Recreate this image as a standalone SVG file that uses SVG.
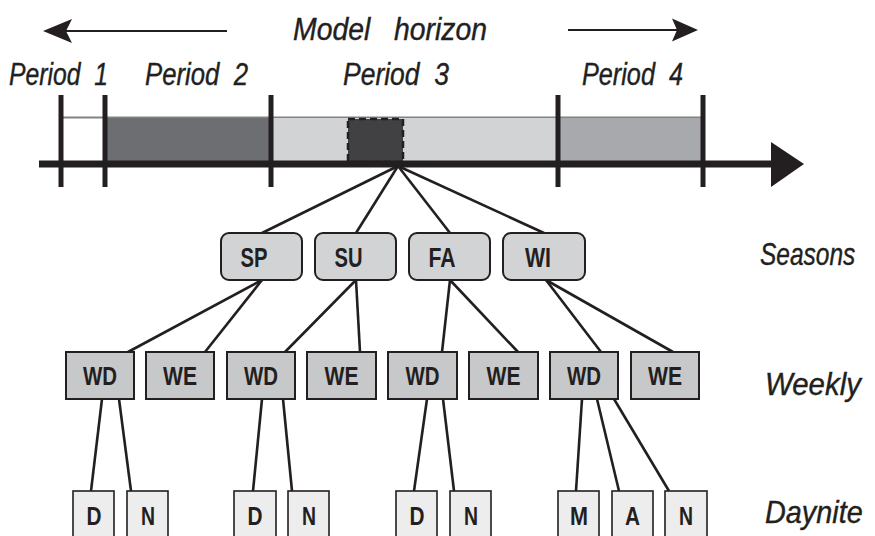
<svg xmlns="http://www.w3.org/2000/svg" width="875" height="536" viewBox="0 0 875 536">
  <style>
    .lbl { font-family: "Liberation Sans", Arial, sans-serif; font-style: italic; font-size: 31px; fill: #231f20; stroke: #231f20; stroke-width: 0.4; white-space: pre; }
    .nt { font-family: "Liberation Sans", Arial, sans-serif; font-weight: bold; fill: #231f20; text-anchor: middle; }
    .season rect { fill: #d1d3d4; stroke: #231f20; stroke-width: 2; }
    .week rect { fill: #c7c8ca; stroke: #231f20; stroke-width: 2; }
    .day rect { fill: #ededee; stroke: #231f20; stroke-width: 1.6; }
    .season text { font-size: 28px; }
    .week text, .day text { font-size: 26px; }
    .conn line { stroke: #231f20; stroke-width: 2.6; stroke-linecap: butt; }
    .tick { stroke: #231f20; stroke-width: 5; }
  </style>

  <!-- model horizon arrows and title -->
  <g id="horizon">
    <line x1="227" y1="31" x2="62" y2="31" stroke="#231f20" stroke-width="2"/>
    <polygon points="43,31 72,19 66,31 72,43" fill="#231f20"/>
    <line x1="568" y1="30" x2="680" y2="30" stroke="#231f20" stroke-width="2"/>
    <polygon points="698,30 672,18.5 677,30 672,41.5" fill="#231f20"/>
    <text class="lbl" x="293" y="40" textLength="194" lengthAdjust="spacingAndGlyphs">Model   horizon</text>
  </g>

  <!-- period labels -->
  <g id="period-labels">
    <text class="lbl" x="9" y="85" textLength="99" lengthAdjust="spacingAndGlyphs">Period  1</text>
    <text class="lbl" x="145" y="85" textLength="103" lengthAdjust="spacingAndGlyphs">Period  2</text>
    <text class="lbl" x="343" y="85" textLength="106" lengthAdjust="spacingAndGlyphs">Period  3</text>
    <text class="lbl" x="582" y="85" textLength="101" lengthAdjust="spacingAndGlyphs">Period  4</text>
  </g>

  <!-- timeline -->
  <g id="timeline">
    <line x1="61" y1="117.5" x2="703" y2="117.5" stroke="#808285" stroke-width="2"/>
    <rect x="105" y="118" width="165" height="44" fill="#6d6e71"/>
    <rect x="270" y="118" width="288" height="44" fill="#d1d3d4"/>
    <rect x="558" y="118" width="145" height="44" fill="#a7a9ac"/>
    <rect x="348" y="119" width="55" height="43" fill="#414042" stroke="#231f20" stroke-width="2.5" stroke-dasharray="7,4"/>
    <line x1="39" y1="164" x2="776" y2="164" stroke="#231f20" stroke-width="7"/>
    <polygon points="771,142 804,164 771,187" fill="#231f20"/>
    <line class="tick" x1="61" y1="95" x2="61" y2="187"/>
    <line class="tick" x1="105" y1="95" x2="105" y2="187"/>
    <line class="tick" x1="271" y1="95" x2="271" y2="187"/>
    <line class="tick" x1="558" y1="95" x2="558" y2="187"/>
    <line class="tick" x1="703" y1="95" x2="703" y2="187"/>
  </g>

  <!-- connectors -->
  <g id="connectors" class="conn">
    <line x1="398" y1="166" x2="262" y2="233"/>
    <line x1="398" y1="166" x2="356" y2="233"/>
    <line x1="398" y1="166" x2="450" y2="233"/>
    <line x1="398" y1="166" x2="544" y2="233"/>

    <line x1="262" y1="280" x2="128" y2="352"/>
    <line x1="262" y1="280" x2="205" y2="352"/>
    <line x1="356" y1="280" x2="285" y2="352"/>
    <line x1="356" y1="280" x2="360" y2="352"/>
    <line x1="450" y1="280" x2="442" y2="352"/>
    <line x1="450" y1="280" x2="518" y2="352"/>
    <line x1="546" y1="280" x2="601" y2="352"/>
    <line x1="546" y1="280" x2="673" y2="352"/>

    <line x1="102" y1="399" x2="91" y2="491"/>
    <line x1="119" y1="399" x2="131" y2="491"/>
    <line x1="262" y1="399" x2="253" y2="491"/>
    <line x1="283" y1="399" x2="292" y2="491"/>
    <line x1="427" y1="399" x2="414" y2="491"/>
    <line x1="443" y1="399" x2="454" y2="491"/>
    <line x1="582" y1="399" x2="576" y2="491"/>
    <line x1="597" y1="399" x2="619" y2="491"/>
    <line x1="614" y1="399" x2="669" y2="491"/>
  </g>

  <!-- seasons -->
  <g id="sp" class="season"><rect x="221" y="233" width="81" height="47" rx="8"/><text class="nt" x="254" y="267" textLength="27" lengthAdjust="spacingAndGlyphs">SP</text></g>
  <g id="su" class="season"><rect x="315" y="233" width="81" height="47" rx="8"/><text class="nt" x="348.5" y="267" textLength="28" lengthAdjust="spacingAndGlyphs">SU</text></g>
  <g id="fa" class="season"><rect x="409" y="233" width="81" height="47" rx="8"/><text class="nt" x="442" y="267" textLength="27" lengthAdjust="spacingAndGlyphs">FA</text></g>
  <g id="wi" class="season"><rect x="503" y="233" width="82" height="47" rx="8"/><text class="nt" x="538" y="267" textLength="26" lengthAdjust="spacingAndGlyphs">WI</text></g>

  <!-- weekly -->
  <g id="wd1" class="week"><rect x="66" y="352" width="68" height="47"/><text class="nt" x="100" y="385" textLength="34" lengthAdjust="spacingAndGlyphs">WD</text></g>
  <g id="we1" class="week"><rect x="146" y="352" width="68" height="47"/><text class="nt" x="180" y="385" textLength="34" lengthAdjust="spacingAndGlyphs">WE</text></g>
  <g id="wd2" class="week"><rect x="227" y="352" width="68" height="47"/><text class="nt" x="261" y="385" textLength="34" lengthAdjust="spacingAndGlyphs">WD</text></g>
  <g id="we2" class="week"><rect x="307" y="352" width="69" height="47"/><text class="nt" x="341.5" y="385" textLength="34" lengthAdjust="spacingAndGlyphs">WE</text></g>
  <g id="wd3" class="week"><rect x="388" y="352" width="69" height="47"/><text class="nt" x="422.5" y="385" textLength="34" lengthAdjust="spacingAndGlyphs">WD</text></g>
  <g id="we3" class="week"><rect x="469" y="352" width="69" height="47"/><text class="nt" x="503.5" y="385" textLength="34" lengthAdjust="spacingAndGlyphs">WE</text></g>
  <g id="wd4" class="week"><rect x="550" y="352" width="68" height="47"/><text class="nt" x="584" y="385" textLength="34" lengthAdjust="spacingAndGlyphs">WD</text></g>
  <g id="we4" class="week"><rect x="631" y="352" width="68" height="47"/><text class="nt" x="665" y="385" textLength="34" lengthAdjust="spacingAndGlyphs">WE</text></g>

  <!-- daynite -->
  <g id="d1" class="day"><rect x="73" y="491" width="41" height="60"/><text class="nt" x="94" y="525" textLength="15" lengthAdjust="spacingAndGlyphs">D</text></g>
  <g id="n1" class="day"><rect x="127" y="491" width="41" height="60"/><text class="nt" x="148" y="525" textLength="14" lengthAdjust="spacingAndGlyphs">N</text></g>
  <g id="d2" class="day"><rect x="234" y="491" width="42" height="60"/><text class="nt" x="255" y="525" textLength="15" lengthAdjust="spacingAndGlyphs">D</text></g>
  <g id="n2" class="day"><rect x="288" y="491" width="41" height="60"/><text class="nt" x="309" y="525" textLength="14" lengthAdjust="spacingAndGlyphs">N</text></g>
  <g id="d3" class="day"><rect x="396" y="491" width="41" height="60"/><text class="nt" x="417" y="525" textLength="15" lengthAdjust="spacingAndGlyphs">D</text></g>
  <g id="n3" class="day"><rect x="450" y="491" width="41" height="60"/><text class="nt" x="471" y="525" textLength="14" lengthAdjust="spacingAndGlyphs">N</text></g>
  <g id="m4" class="day"><rect x="558" y="491" width="41" height="60"/><text class="nt" x="579" y="525" textLength="18" lengthAdjust="spacingAndGlyphs">M</text></g>
  <g id="a4" class="day"><rect x="612" y="491" width="41" height="60"/><text class="nt" x="632.5" y="525" textLength="15" lengthAdjust="spacingAndGlyphs">A</text></g>
  <g id="n4" class="day"><rect x="665" y="491" width="42" height="60"/><text class="nt" x="686" y="525" textLength="14" lengthAdjust="spacingAndGlyphs">N</text></g>

  <!-- level labels -->
  <g id="level-labels">
    <text class="lbl" transform="translate(760,265) scale(0.79,1)">Seasons</text>
    <text class="lbl" transform="translate(765,395) scale(0.95,1)">Weekly</text>
    <text class="lbl" transform="translate(765,523) scale(0.93,1)">Daynite</text>
  </g>
</svg>
